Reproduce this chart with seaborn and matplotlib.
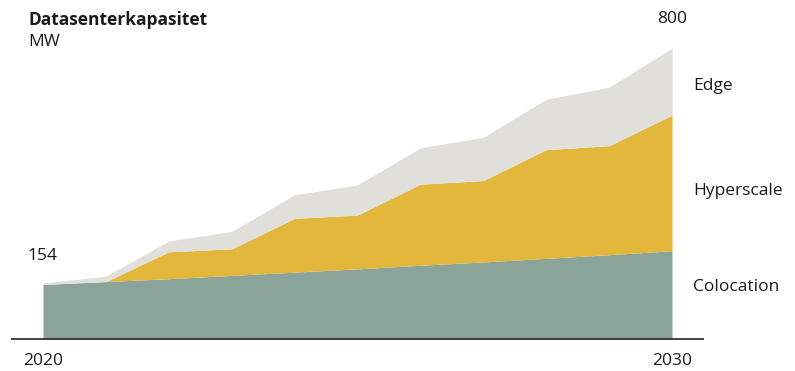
import matplotlib
matplotlib.use("Agg")
import matplotlib.pyplot as plt
import seaborn as sns
import pandas as pd

# Data centre capacity in MW by segment
years = [2020, 2021, 2022, 2023, 2024, 2025, 2026, 2027, 2028, 2029, 2030]
colocation = [150, 158, 166, 175, 184, 193, 203, 212, 222, 232, 243]
hyperscale = [0, 0, 74, 73, 148, 148, 223, 224, 299, 300, 373]
edge = [4, 15, 30, 48, 65, 83, 100, 119, 139, 161, 184]

segments = ["Colocation", "Hyperscale", "Edge"]
colors = ["#8aa49a", "#e2b73b", "#e0dfda"]

df = pd.DataFrame({"year": years, "Colocation": colocation,
                   "Hyperscale": hyperscale, "Edge": edge})

sns.set_theme(style="white")
plt.rcParams["font.family"] = ["Open Sans", "DejaVu Sans"]

fig = plt.figure(figsize=(7.95, 3.71), dpi=100)
ax = fig.add_axes([43 / 795, (371 - 339) / 371, 629 / 795, 290.7 / 371])

base = pd.Series(0.0, index=df.index)
for name, col in zip(segments, colors):
    top = base + df[name]
    ax.fill_between(df["year"], base, top, color=col, linewidth=0)
    base = top
total = base

ax.set_xlim(2020, 2030)
ax.set_ylim(0, 800)
ax.axis("off")

# Baseline rule extending beyond the area
ax.plot([2020 - 32 / 62.9, 2030 + 32 / 62.9], [0, 0], color="#333333",
        linewidth=1.3, clip_on=False, solid_capstyle="butt")

txt = dict(color="#1a1a1a", fontsize=12.5)
ax.text(2020, -60, str(years[0]), ha="center", va="center", **txt)
ax.text(2030, -60, str(years[-1]), ha="center", va="center", **txt)
ax.text(2020 - 16 / 62.9, 228, f"{int(total.iloc[0])}",
        ha="left", va="center", **txt)
ax.text(2030, 881, f"{int(total.iloc[-1])}",
        ha="center", va="center", **txt)

# Segment labels on the right
ax.text(2030.33, 696, "Edge", ha="left", va="center", **txt)
ax.text(2030.33, 407, "Hyperscale", ha="left", va="center", **txt)
ax.text(2030.33, 143, "Colocation", ha="left", va="center", **txt)

fig.text(28 / 795, 1 - 20 / 371, "Datasenterkapasitet", ha="left",
         va="center", fontsize=12.5, fontweight="bold", color="#1a1a1a")
fig.text(28 / 795, 1 - 42 / 371, "MW", ha="left", va="center",
         fontsize=12.5, color="#1a1a1a")

fig.savefig("out.png", dpi=100)
